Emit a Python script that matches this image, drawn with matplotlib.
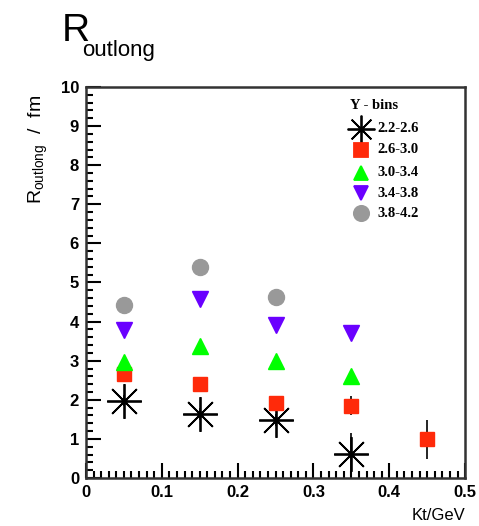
import numpy as np
import matplotlib
matplotlib.use("Agg")
import matplotlib.pyplot as plt
from matplotlib.ticker import MultipleLocator

# data
kt = [0.05, 0.15, 0.25, 0.35, 0.45]
bins = ["2.2-2.6", "2.6-3.0", "3.0-3.4", "3.4-3.8", "3.8-4.2"]
r_22 = [1.98, 1.64, 1.48, 0.61]
e_22 = [0.15, 0.15, 0.15, 0.55]
r_26 = [2.66, 2.40, 1.91, 1.85, 0.99]
e_26 = [0.1, 0.1, 0.15, 0.25, 0.5]
r_30 = [2.97, 3.38, 3.00, 2.61]
r_34 = [3.79, 4.57, 3.91, 3.72]
r_38 = [4.42, 5.40, 4.62]

fig = plt.figure(figsize=(4.79, 5.26), dpi=100)
ax = fig.add_axes([0.1795, 0.0913, 0.7915, 0.7433])

star = (8, 2, 0)
ax.errorbar(kt[:4], r_22, yerr=e_22, fmt="none", ecolor="black", elinewidth=1.2)
ax.plot(kt[:4], r_22, ls="none", marker=star, ms=25, mec="black", mew=1.3, color="black")
ax.plot(kt[:4], r_22, ls="none", marker="o", ms=3, color="black")
ax.errorbar(kt, r_26, yerr=e_26, fmt="none", ecolor="black", elinewidth=1.2)
ax.plot(kt, r_26, ls="none", marker="s", ms=10.5, color="#ff2a0a")
ax.plot(kt[:4], r_30, ls="none", marker="^", ms=11, color="#00ff00")
ax.plot(kt[:4], r_34, ls="none", marker="v", ms=11, color="#6a00ff")
ax.plot(kt[:3], r_38, ls="none", marker="o", ms=11.5, color="#999999")

ax.set_xlim(0, 0.5)
ax.set_ylim(0, 10)
ax.xaxis.set_major_locator(MultipleLocator(0.1))
ax.xaxis.set_minor_locator(MultipleLocator(0.01))
ax.yaxis.set_major_locator(MultipleLocator(1))
ax.yaxis.set_minor_locator(MultipleLocator(0.2))
ax.tick_params(which="both", direction="in", top=False, right=False, width=1.5)
ax.tick_params(which="major", length=11, labelsize=12, pad=5)
ax.tick_params(which="minor", length=5)
for lab in ax.get_xticklabels() + ax.get_yticklabels():
    lab.set_fontfamily("Liberation Sans")
    lab.set_fontweight("bold")
ax.xaxis.set_major_formatter(plt.FuncFormatter(lambda v, p: "0" if v == 0 else ("%.1f" % v)))
ax.yaxis.set_major_formatter(plt.FuncFormatter(lambda v, p: "%d" % v))
for s in ax.spines.values():
    s.set_linewidth(1.8)
    s.set_color("#333333")

# legend drawn as text like the original
fig.text(0.73, 0.793, "Y - bins", family="Liberation Serif", fontweight="bold", fontsize=10.5)
leg_markers = [(star, "black", 20), ("s", "#ff2a0a", 10), ("^", "#00ff00", 10),
               ("v", "#6a00ff", 10), ("o", "#999999", 11)]
leg_y = [0.755, 0.715, 0.672, 0.633, 0.595]
for (m, c, ms), yy, lab in zip(leg_markers, leg_y, bins):
    fig.lines.append(plt.Line2D([0.754], [yy], transform=fig.transFigure, marker=m,
                                ms=ms, color=c, mec=c, mew=1.3, ls="none"))
    fig.text(0.788, yy, lab, family="Liberation Serif", fontweight="bold",
             fontsize=10.5, va="center")

fig.text(0.128, 0.923, "R", family="Liberation Sans", fontsize=28)
fig.text(0.171, 0.893, "outlong", family="Liberation Sans", fontsize=16)
fig.text(0.972, 0.012, "Kt/GeV", family="Liberation Sans", fontsize=12, ha="right")
ax.set_ylabel(r"R$_{\mathregular{outlong}}$  /  fm", family="Liberation Sans",
              fontsize=14)
ax.yaxis.set_label_coords(-0.095, 0.84)

fig.savefig("out.png", dpi=100)
